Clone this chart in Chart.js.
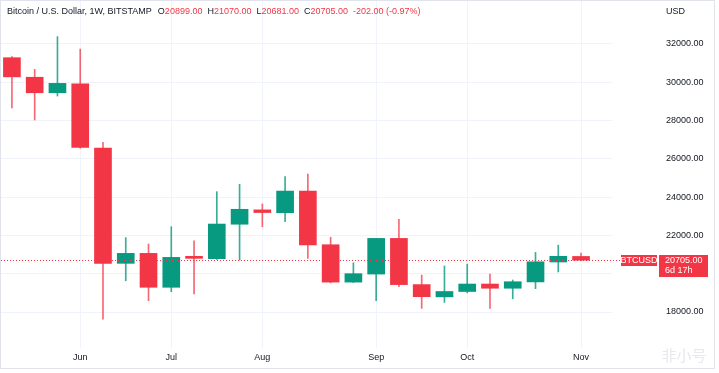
<!DOCTYPE html>
<html>
<head>
<meta charset="utf-8">
<script src="https://cdn.jsdelivr.net/npm/chart.js@4.4.0/dist/chart.umd.min.js"></script>
<style>
  html, body { margin: 0; padding: 0; background: #fff; }
  canvas { display: block; }
</style>
</head>
<body>
<canvas id="btc" width="719" height="373"></canvas>
<script>
// ─── Data: BTCUSD weekly, Bitstamp ─────────────────────────
const weeks = ['2022-05-16', '2022-05-23', '2022-05-30', '2022-06-06', '2022-06-13', '2022-06-20',
  '2022-06-27', '2022-07-04', '2022-07-11', '2022-07-18', '2022-07-25', '2022-08-01', '2022-08-08',
  '2022-08-15', '2022-08-22', '2022-08-29', '2022-09-05', '2022-09-12', '2022-09-19', '2022-09-26',
  '2022-10-03', '2022-10-10', '2022-10-17', '2022-10-24', '2022-10-31', '2022-11-07'];
const openP  = [31270, 30250, 29440, 29910, 26560, 20540, 21060, 19290, 20860, 20780, 22580, 23330, 23180,
  24310, 21510, 19560, 19980, 21840, 19430, 18790, 19070, 19460, 19240, 19570, 20610, 20899];
const highP  = [31330, 30660, 32370, 31720, 26860, 21880, 21550, 22450, 21720, 24280, 24660, 23640, 25060,
  25200, 21900, 20570, 21850, 22840, 19930, 20400, 20500, 19980, 19670, 21110, 21490, 21070];
const lowP   = [28650, 28020, 29270, 26540, 17620, 19630, 18590, 19060, 18940, 20740, 20710, 22450, 22710,
  20800, 19520, 19540, 18590, 19320, 18190, 18500, 19000, 18190, 18690, 19220, 20090, 20681];
const closeP = [30270, 29440, 29930, 26590, 20540, 21060, 19290, 20850, 20800, 22590, 23360, 23190, 24310,
  21500, 19560, 20000, 21840, 19430, 18800, 19070, 19460, 19240, 19580, 20620, 20907, 20705];

const monthIdx = [3, 7, 11, 16, 20, 25];
const monthLabels = ['Jun', 'Jul', 'Aug', 'Sep', 'Oct', 'Nov'];
const priceTicks = [18000, 20000, 22000, 24000, 26000, 28000, 30000, 32000];

const UP = '#089981';
const DOWN = '#F23645';
const FONT = "'Liberation Sans', Arial, sans-serif";

const isUp = i => closeP[i] >= openP[i];
const last = closeP.length - 1;

// ─── Overlays: header, last price line + labels, frame ─────
const overlay = {
  id: 'overlay',
  beforeDraw(chart) {
    const { ctx } = chart;
    ctx.save();
    ctx.strokeStyle = '#e0e3eb';
    ctx.lineWidth = 1;
    ctx.strokeRect(0.5, 0.5, 714, 368);
    ctx.restore();
  },
  afterDatasetsDraw(chart) {
    const { ctx, chartArea, scales } = chart;
    const y = Math.round(scales.y.getPixelForValue(closeP[last])) + 0.5;
    ctx.save();
    ctx.strokeStyle = DOWN;
    ctx.lineWidth = 1;
    ctx.setLineDash([1, 2]);
    ctx.beginPath();
    ctx.moveTo(chartArea.left, y);
    ctx.lineTo(621, y);
    ctx.stroke();
    ctx.setLineDash([]);

    // symbol + price tags
    ctx.fillStyle = DOWN;
    ctx.fillRect(621, y - 5.5, 36, 11);
    ctx.fillRect(659, y - 5.5, 49, 22);
    ctx.fillStyle = '#fff';
    ctx.font = `9px ${FONT}`;
    ctx.textBaseline = 'middle';
    ctx.textAlign = 'center';
    ctx.fillText('BTCUSD', 639, y);
    ctx.textAlign = 'left';
    ctx.fillText(closeP[last].toFixed(2), 665, y);
    ctx.fillText('6d 17h', 665, y + 10.5);
    ctx.restore();
  },
  afterDraw(chart) {
    const { ctx } = chart;
    ctx.save();
    ctx.font = `9px ${FONT}`;
    ctx.textBaseline = 'middle';
    ctx.textAlign = 'left';

    const chg = closeP[last] - closeP[last - 1];
    const pct = chg / closeP[last - 1] * 100;
    const col = chg >= 0 ? UP : DOWN;
    const parts = [
      ['Bitcoin / U.S. Dollar, 1W, BITSTAMP', '#131722', 6],
      ['O', '#131722', 0], [openP[last].toFixed(2), col, 5],
      ['H', '#131722', 0], [highP[last].toFixed(2), col, 5],
      ['L', '#131722', 0], [lowP[last].toFixed(2), col, 5],
      ['C', '#131722', 0], [closeP[last].toFixed(2), col, 5],
      [`${chg.toFixed(2)} (${pct.toFixed(2)}%)`, col, 0],
    ];
    let x = 7;
    parts.forEach(([t, c, gap]) => {
      ctx.fillStyle = c;
      ctx.fillText(t, x, 12);
      x += ctx.measureText(t).width + gap;
    });

    ctx.fillStyle = '#131722';
    ctx.fillText('USD', 666, 12);

    // watermark
    ctx.fillStyle = '#e6e8ec';
    ctx.font = "15px 'Noto Sans CJK SC', sans-serif";
    ctx.textAlign = 'center';
    ctx.fillText('非小号', 684, 355);
    ctx.restore();
  },
};

const ctx = document.getElementById('btc');

new Chart(ctx, {
  type: 'bar',
  data: {
    datasets: [
      {
        label: 'body',
        data: weeks.map((_, i) => ({ x: i, y: [openP[i], closeP[i]] })),
        backgroundColor: weeks.map((_, i) => (isUp(i) ? UP : DOWN)),
        barThickness: 17,
        minBarLength: 2,
        grouped: false,
      },
      {
        label: 'wick',
        data: weeks.map((_, i) => ({ x: i, y: [lowP[i], highP[i]] })),
        backgroundColor: weeks.map((_, i) => (isUp(i) ? 'rgba(8,153,129,0.8)' : 'rgba(242,54,69,0.75)')),
        barThickness: 1,
        grouped: false,
      },
    ],
  },
  options: {
    responsive: false,
    animation: false,
    layout: { padding: { left: 1, right: 5, top: 1, bottom: 5 } },
    plugins: { legend: { display: false }, tooltip: { enabled: false } },
    scales: {
      x: {
        type: 'linear',
        offset: false,
        min: -0.48,
        max: 26.36,
        afterBuildTicks: (s) => { s.ticks = monthIdx.map(v => ({ value: v })); },
        afterFit: (s) => { s.height = 20; s.paddingLeft = 0; s.paddingRight = 0; },
        grid: { color: '#f0f3fa', drawTicks: false, offset: false },
        border: { display: false },
        ticks: {
          autoSkip: false,
          maxRotation: 0,
          padding: 4,
          color: '#131722',
          font: { size: 9, family: FONT },
          callback: (v, i) => monthLabels[i],
        },
      },
      y: {
        position: 'right',
        min: 16122,
        max: 34228,
        afterBuildTicks: (s) => { s.ticks = priceTicks.map(v => ({ value: v })); },
        afterFit: (s) => { s.width = 102; s.paddingTop = 0; s.paddingBottom = 0; },
        grid: { color: '#f0f3fa', drawTicks: false },
        border: { display: false },
        ticks: {
          padding: 54,
          color: '#131722',
          font: { size: 9, family: FONT },
          callback: v => (v === 20000 ? '' : v.toFixed(2)),
        },
      },
    },
  },
  plugins: [overlay],
});
</script>
</body>
</html>
